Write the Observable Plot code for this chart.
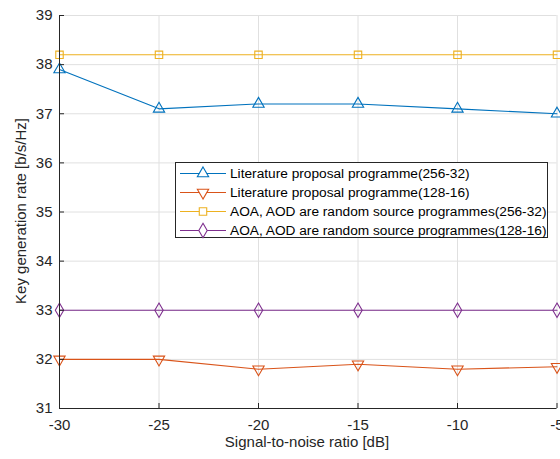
<!DOCTYPE html>
<html><head><meta charset="utf-8">
<script src="https://cdn.jsdelivr.net/npm/d3@7"></script>
<script src="https://cdn.jsdelivr.net/npm/@observablehq/plot@0.6"></script>
<style>
body{margin:0;background:#fff;font-family:"Liberation Sans",Arial,sans-serif;}
#wrap{position:relative;width:560px;height:459px;overflow:hidden;}
#legend{position:absolute;left:175px;top:162px;width:373px;height:76px;border:1px solid #262626;background:#fff;box-sizing:border-box;}
.row{position:absolute;left:0;height:19px;display:flex;align-items:center;font-size:13.7px;color:#000;}
.row svg{margin-left:4px;margin-right:4px;}
</style>
</head><body>
<div id="wrap"><div id="chart"></div><div id="legend"></div></div>
<script>
const snr = [-30, -25, -20, -15, -10, -5];
const litA = [37.9, 37.1, 37.2, 37.2, 37.1, 37.0];
const litB = [32.0, 32.0, 31.8, 31.9, 31.8, 31.85];
const randA = [38.2, 38.2, 38.2, 38.2, 38.2, 38.2];
const randB = [33.0, 33.0, 33.0, 33.0, 33.0, 33.0];
const seriesNames = [
  "Literature proposal programme(256-32)",
  "Literature proposal programme(128-16)",
  "AOA, AOD are random source programmes(256-32)",
  "AOA, AOD are random source programmes(128-16)"
];
const colors = ["#0072BD", "#D95319", "#EDB120", "#7E2F8E"];
const symbols = ["triangle", "triangle", "square", "diamond"];
const rotates = [0, 180, 0, 0];
const radii = [4.2, 4.2, 4.2, 4.4];
const xTicks = [-30, -25, -20, -15, -10, -5];
const yTicks = [31, 32, 33, 34, 35, 36, 37, 38, 39];

const allVals = [litA, litB, randA, randB];
const data = [];
allVals.forEach((vals, i) => vals.forEach((v, j) => data.push({s: i, x: snr[j], y: v})));

const marks = [
  Plot.ruleX(xTicks, {stroke: "#e0e0e0", strokeWidth: 1}),
  Plot.ruleY(yTicks, {stroke: "#e0e0e0", strokeWidth: 1}),
];
for (let i = 0; i < 4; i++) {
  const d = data.filter(e => e.s === i);
  marks.push(Plot.line(d, {x: "x", y: "y", stroke: colors[i], strokeWidth: 1.1}));
  marks.push(Plot.dot(d, {x: "x", y: "y", stroke: colors[i], fill: "none", symbol: symbols[i], rotate: rotates[i], r: radii[i], strokeWidth: 1.1}));
}
marks.push(
  Plot.ruleX([-30], {stroke: "#262626", strokeWidth: 1}),
  Plot.ruleY([31], {stroke: "#262626", strokeWidth: 1}),
  Plot.axisX({ticks: xTicks, tickSize: -5, fontSize: 15, tickPadding: 16, tickFormat: d => `${d}`, label: null, color: "#262626"}),
  Plot.axisY({ticks: yTicks, tickSize: -5, fontSize: 15, tickPadding: 12, tickFormat: d => `${d}`, label: null, color: "#262626"})
);

const chart = Plot.plot({
  width: 560, height: 459,
  marginTop: 15, marginBottom: 51, marginLeft: 59, marginRight: 3.5,
  x: {domain: [-30, -5]},
  y: {domain: [31, 39]},
  style: {fontFamily: "Liberation Sans, Arial, sans-serif", color: "#262626", background: "#fff", overflow: "hidden"},
  marks
});
document.getElementById("chart").appendChild(chart);

const svg = d3.select(chart);
svg.append("text").attr("x", 307).attr("y", 447).attr("text-anchor", "middle")
  .attr("font-size", 15).attr("fill", "#262626").text("Signal-to-noise ratio [dB]");
svg.append("text").attr("transform", "translate(26,211) rotate(-90)").attr("text-anchor", "middle")
  .attr("font-size", 15).attr("fill", "#262626").text("Key generation rate [b/s/Hz]");

const leg = document.getElementById("legend");
seriesNames.forEach((name, i) => {
  const row = document.createElement("div");
  row.className = "row";
  row.style.top = (1 + i * 19) + "px";
  const sym = d3.symbol(i === 2 ? d3.symbolSquare : i === 3 ? d3.symbolDiamond : d3.symbolTriangle, Math.PI * radii[i] * radii[i])();
  row.innerHTML = `<svg width="46" height="19"><line x1="0" x2="46" y1="9.5" y2="9.5" stroke="${colors[i]}" stroke-width="1.1"/><path d="${sym}" transform="translate(23,9.5) rotate(${rotates[i]})" fill="#fff" stroke="${colors[i]}" stroke-width="1.1"/></svg><span>${name}</span>`;
  leg.appendChild(row);
});
</script>
</body></html>
